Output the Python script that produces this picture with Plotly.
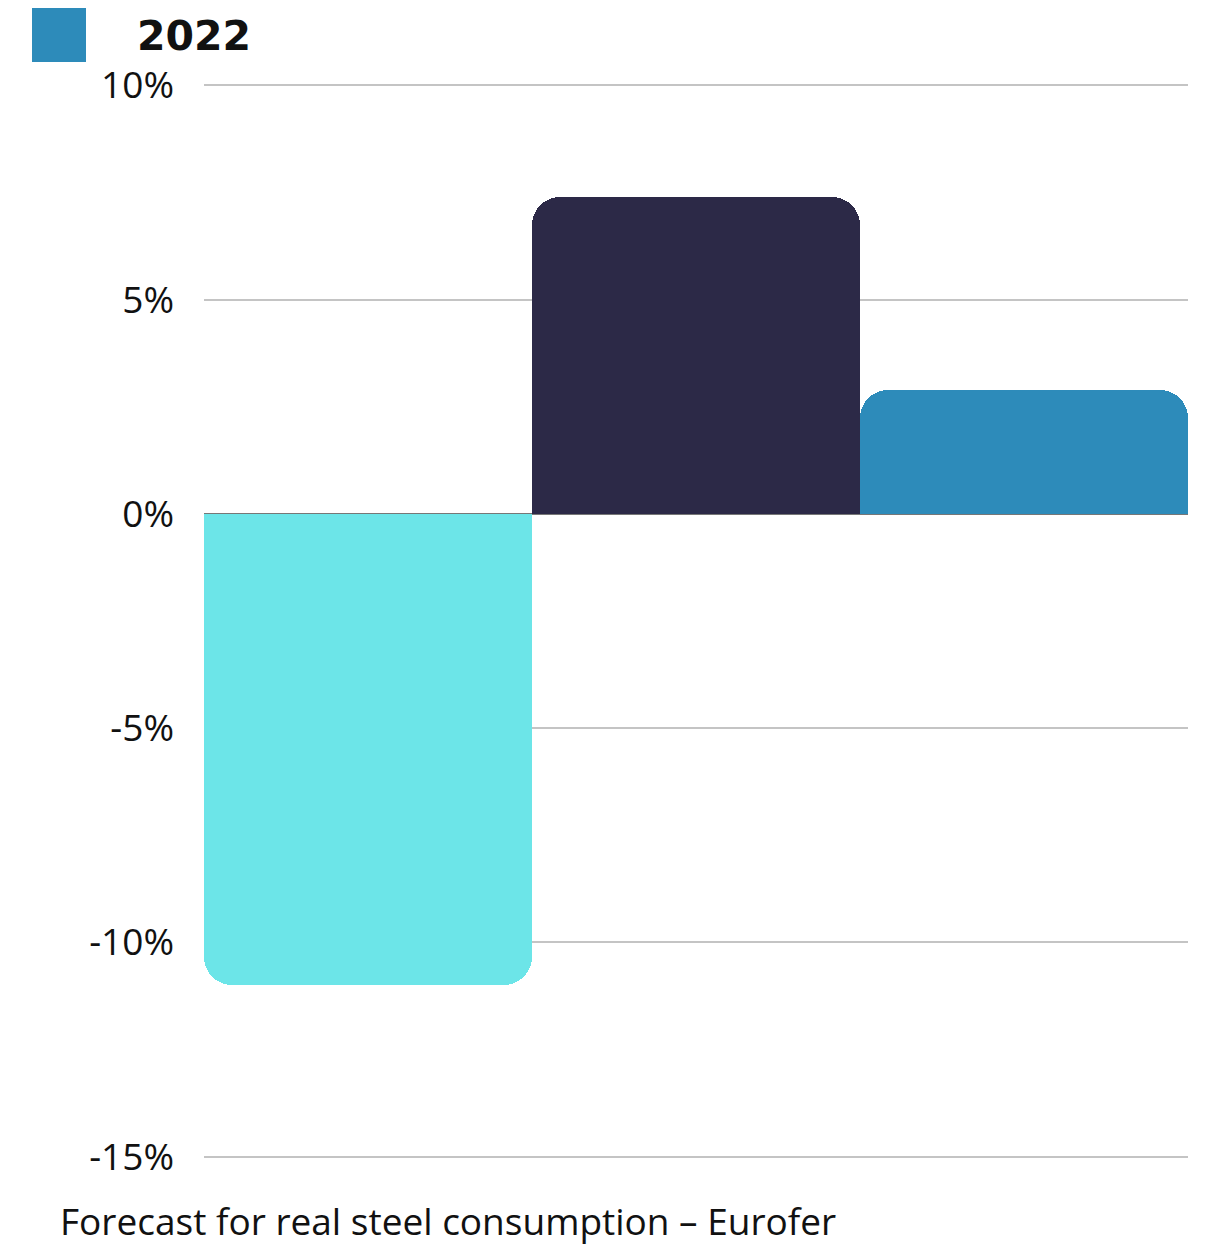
import plotly.graph_objects as go

# Eurofer real steel consumption growth by year (%)
years = ["2020", "2021", "2022"]
growth = [-11.0, 7.4, 2.9]
bar_colors = ["#6ce5e8", "#2c2947", "#2d8bba"]

tick_vals = [-15, -10, -5, 0, 5, 10]
tick_text = ["-15%", "-10%", "-5%", "0%", "5%", "10%"]

legend_year = "2022"
caption = "Forecast for real steel consumption \u2013 Eurofer"

fig = go.Figure()
for yr, val, col in zip(years, growth, bar_colors):
    fig.add_trace(go.Bar(
        x=[yr], y=[val], name=yr,
        marker=dict(color=col, line=dict(width=0)),
        showlegend=False,
    ))

W, H = 1218, 1245
ml, mr, mt, mb = 204, 30, 81, 84
pw, ph = W - ml - mr, H - mt - mb

def px_x(x):
    return (x - ml) / pw

def px_y(y):
    return (H - mb - y) / ph

# Legend entry drawn at a large size
fig.add_shape(type="rect", xref="paper", yref="paper",
              x0=px_x(32), x1=px_x(86), y0=px_y(62), y1=px_y(8),
              fillcolor="#2d8bba", line=dict(width=0))
fig.add_annotation(xref="paper", yref="paper", x=px_x(135), y=px_y(36),
                   xanchor="left", yanchor="middle", showarrow=False,
                   text="<b>" + legend_year + "</b>",
                   font=dict(family="DejaVu Sans", size=41, color="#111111"))

fig.add_annotation(xref="paper", yref="paper", x=px_x(58), y=px_y(1220),
                   xanchor="left", yanchor="middle", showarrow=False,
                   text=caption,
                   font=dict(family="Open Sans", size=37, color="#111111"))

fig.update_layout(
    width=W, height=H,
    margin=dict(l=ml, r=mr, t=mt, b=mb),
    paper_bgcolor="white", plot_bgcolor="white",
    bargap=0, barmode="group", barcornerradius=28,
    font=dict(family="Open Sans", size=37, color="#111111"),
    xaxis=dict(showticklabels=False, showgrid=False, zeroline=False,
               showline=False, ticks=""),
    yaxis=dict(range=[-15.1, 10.1], tickvals=tick_vals, ticktext=tick_text,
               showgrid=True, gridcolor="#c4c4c4", gridwidth=1.5,
               zeroline=True, zerolinecolor="#777777", zerolinewidth=1.5,
               showline=False, ticks="", ticklabelstandoff=29,
               tickfont=dict(family="Open Sans", size=37, color="#111111")),
)

fig.write_html("out.html")
